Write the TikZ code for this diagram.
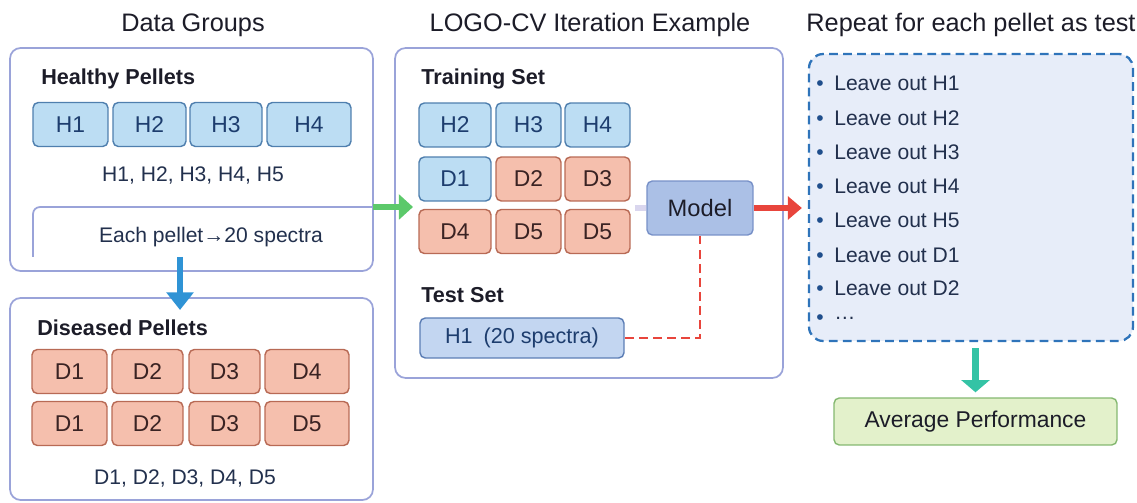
\documentclass[tikz,border=0pt]{standalone}
\usepackage{fontspec}
\setmainfont{Liberation Sans}
\usetikzlibrary{arrows.meta}
\definecolor{panelline}{HTML}{9AA3D9}
\definecolor{ink}{HTML}{1C1C28}
\definecolor{bodytext}{HTML}{22304D}
\definecolor{htext}{HTML}{1D3D6E}
\definecolor{hfill}{HTML}{BCDDF3}
\definecolor{hline}{HTML}{4F7FAE}
\definecolor{dtext}{HTML}{3A2323}
\definecolor{dfill}{HTML}{F5BFAD}
\definecolor{dline}{HTML}{B86A55}
\definecolor{modelfill}{HTML}{ABC0E6}
\definecolor{modelline}{HTML}{7891C8}
\definecolor{testfill}{HTML}{C3D6F1}
\definecolor{testline}{HTML}{5B7DB5}
\definecolor{repfill}{HTML}{E7EDF9}
\definecolor{repline}{HTML}{2F74BA}
\definecolor{avgfill}{HTML}{E3F1CB}
\definecolor{avgline}{HTML}{84B870}
\definecolor{bulletblue}{HTML}{1F4E8C}
\definecolor{arrowgreen}{HTML}{5CC96A}
\definecolor{arrowblue}{HTML}{2F93D5}
\definecolor{arrowred}{HTML}{E8453C}
\definecolor{arrowteal}{HTML}{34C3A5}
\definecolor{linkpurple}{HTML}{D9D6EE}
\begin{document}
\begin{tikzpicture}[x=0.02cm, y=-0.02cm,
    panel/.style={draw=panelline, line width=1pt, rounded corners=6pt, inner sep=0pt},
    title/.style={inner sep=0pt, text=ink, font=\fontsize{14.4}{16}\selectfont},
    head/.style={anchor=west, inner sep=0pt, text=ink, font=\bfseries\fontsize{12.3}{14}\selectfont},
    body/.style={inner sep=0pt, text=bodytext, font=\fontsize{12}{14}\selectfont},
    hcell/.style={draw=hline, fill=hfill, text=htext, rounded corners=3pt, line width=0.8pt,
      inner sep=0pt, minimum height=0.88cm, font=\fontsize{13}{15}\selectfont},
    dcell/.style={hcell, draw=dline, fill=dfill, text=dtext},
    item/.style={anchor=west, inner sep=0pt, text=bodytext, font=\fontsize{12}{14}\selectfont},
    flow/.style={line width=3.6pt}]
  \useasboundingbox (0,0) rectangle (1137,503);

  % titles
  \node[title] (t1) at (193,25) {Data Groups};
  \node[title] (t2) at (590,25) {LOGO-CV Iteration Example};
  \node[title] (t3) at (971,25) {Repeat for each pellet as test};

  % data groups
  \node[panel, minimum width=7.26cm, minimum height=4.46cm] (healthy) at (191.5,159.5) {};
  \node[panel, minimum width=7.26cm, minimum height=4.04cm] (diseased) at (191.5,399) {};
  \node[head] (hp) at (41,79) {Healthy Pellets};
  \node[hcell, minimum width=1.50cm] (h1) at (70.5,124.5) {H1};
  \node[hcell, minimum width=1.46cm] (h2) at (149.5,124.5) {H2};
  \node[hcell, minimum width=1.44cm] (h3) at (226,124.5) {H3};
  \node[hcell, minimum width=1.68cm] (h4) at (309,124.5) {H4};
  \node[body] (hlist) at (193,175) {H1, H2, H3, H4, H5};
  \draw[draw=panelline, line width=1pt, rounded corners=4pt] (33,257) -- (33,207) -- (373,207);
  \node[body] (each) at (211,237) {Each pellet→20 spectra};

  \node[head] (dp) at (37,328) {Diseased Pellets};
  \node[dcell, minimum width=1.50cm] (d1) at (69.5,371.5) {D1};
  \node[dcell, minimum width=1.42cm] (d2) at (147.5,371.5) {D2};
  \node[dcell, minimum width=1.42cm] (d3) at (224.5,371.5) {D3};
  \node[dcell, minimum width=1.68cm] (d4) at (307,371.5) {D4};
  \node[dcell, minimum width=1.50cm] (e1) at (69.5,423.5) {D1};
  \node[dcell, minimum width=1.42cm] (e2) at (147.5,423.5) {D2};
  \node[dcell, minimum width=1.42cm] (e3) at (224.5,423.5) {D3};
  \node[dcell, minimum width=1.68cm] (e5) at (307,423.5) {D5};
  \node[body] (dlist) at (185,478) {D1, D2, D3, D4, D5};

  % one iteration
  \node[panel, minimum width=7.76cm, minimum height=6.6cm] (loop) at (589,213) {};
  \node[head] (train) at (421,79) {Training Set};
  \node[hcell, minimum width=1.44cm] (th2) at (455,125) {H2};
  \node[hcell, minimum width=1.30cm] (th3) at (528.5,125) {H3};
  \node[hcell, minimum width=1.30cm] (th4) at (597.5,125) {H4};
  \node[hcell, minimum width=1.44cm] (td1) at (455,179) {D1};
  \node[dcell, minimum width=1.30cm] (td2) at (528.5,179) {D2};
  \node[dcell, minimum width=1.30cm] (td3) at (597.5,179) {D3};
  \node[dcell, minimum width=1.44cm] (td4) at (455,231.5) {D4};
  \node[dcell, minimum width=1.30cm] (td5) at (528.5,231.5) {D5};
  \node[dcell, minimum width=1.30cm] (tf5) at (597.5,231.5) {D5};
  \node[hcell, draw=modelline, fill=modelfill, text=ink, minimum width=2.12cm, minimum height=1.08cm,
    font=\fontsize{13.5}{15}\selectfont] (model) at (700,208) {Model};
  \node[head] (test) at (421,295) {Test Set};
  \node[hcell, draw=testline, fill=testfill, minimum width=4.08cm, minimum height=0.8cm,
    font=\fontsize{12.3}{14}\selectfont] (held) at (522,338) {H1\enspace(20 spectra)};

  % repeat
  \node[panel, draw=repline, fill=repfill, line width=1.3pt, dash pattern=on 5pt off 3pt, rounded corners=8pt,
    minimum width=6.48cm, minimum height=5.74cm] (repeat) at (971,197.5) {};
  \node[item] (l1) at (816,83) {\textcolor{bulletblue}{\textbullet}\hspace{6pt}Leave out H1};
  \node[item] (l2) at (816,118) {\textcolor{bulletblue}{\textbullet}\hspace{6pt}Leave out H2};
  \node[item] (l3) at (816,152) {\textcolor{bulletblue}{\textbullet}\hspace{6pt}Leave out H3};
  \node[item] (l4) at (816,186) {\textcolor{bulletblue}{\textbullet}\hspace{6pt}Leave out H4};
  \node[item] (l5) at (816,220) {\textcolor{bulletblue}{\textbullet}\hspace{6pt}Leave out H5};
  \node[item] (l6) at (816,255) {\textcolor{bulletblue}{\textbullet}\hspace{6pt}Leave out D1};
  \node[item] (l7) at (816,288) {\textcolor{bulletblue}{\textbullet}\hspace{6pt}Leave out D2};
  \node[item] (l8) at (816,320) {\textcolor{bulletblue}{\textbullet}\hspace{6pt}\raisebox{3pt}{\dots}};
  \node[hcell, draw=avgline, fill=avgfill, text=ink, minimum width=5.66cm, minimum height=0.94cm,
    font=\fontsize{13}{15}\selectfont] (avg) at (975.5,421.5) {Average Performance};

  % connectors
  \coordinate (split) at (180,257);
  \coordinate (drop) at (180,310);
  \coordinate (gfrom) at (373,207);
  \coordinate (gto) at (413,207);
  \coordinate (link) at (635,208);
  \draw[flow, draw=arrowblue, -{Triangle[width=15pt, length=10pt]}] (split) -- (drop);
  \draw[flow, draw=arrowgreen, -{Triangle[width=14pt, length=8pt]}] (gfrom) -- (gto);
  \draw[flow, draw=linkpurple] (link) -- (model.west);
  \draw[flow, draw=arrowred, shorten >=0.12cm, -{Triangle[width=13pt, length=8pt]}] (model.east) -- (repeat.west |- model.east);
  \draw[draw=arrowred, line width=1.6pt, dash pattern=on 5pt off 3pt] (model.south) |- (held.east);
  \draw[flow, draw=arrowteal, shorten <=0.12cm, shorten >=0.1cm, -{Triangle[width=16pt, length=7pt]}] (avg.north |- repeat.south) -- (avg.north);
\end{tikzpicture}
\end{document}
